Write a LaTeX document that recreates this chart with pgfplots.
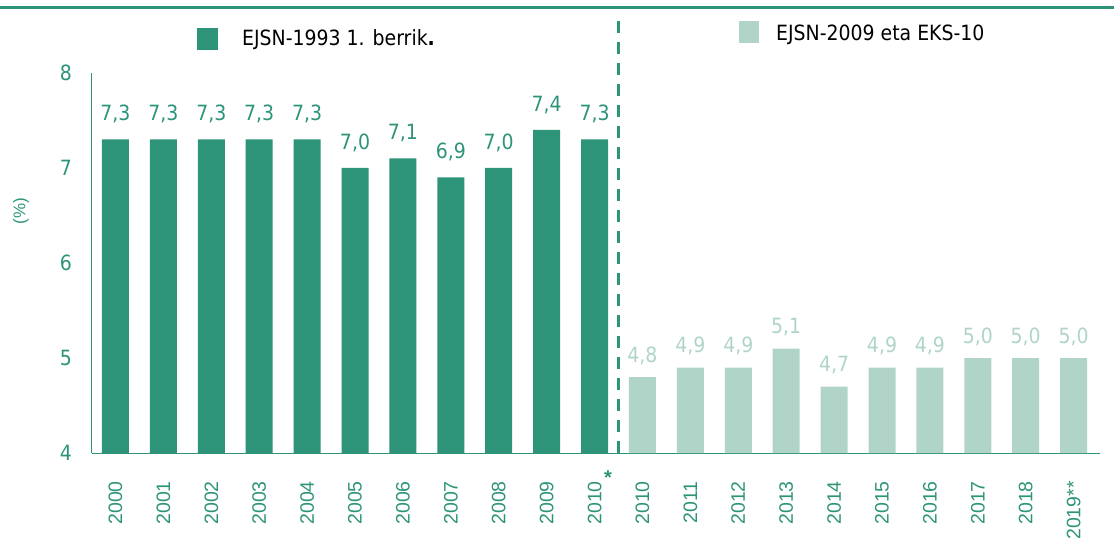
\documentclass[border=0pt]{standalone}
\usepackage{pgfplots}
\pgfplotsset{compat=1.18}
\usepackage{fontspec}
\setmainfont{DejaVu Sans Condensed}
\newfontfamily\arial{Liberation Sans}
\definecolor{dk}{HTML}{2E9479}
\definecolor{lt}{HTML}{B0D5C8}
\newcommand\F{\fontsize{21}{25}\selectfont}
\newcommand\Y{\arial\fontsize{19.5}{23}\selectfont}
\begin{document}
\begin{tikzpicture}
\useasboundingbox (-92pt,-88pt) rectangle (1022pt,453pt);
\draw[dk, line width=3pt] (-92pt,445pt) -- (1022pt,445pt);
\begin{axis}[
  at={(0,0)}, anchor=south west,
  scale only axis, width=1008pt, height=380pt,
  xmin=-0.49, xmax=20.55, ymin=4, ymax=8,
  ybar, bar width=27pt,
  axis x line*=bottom, axis y line*=left,
  axis line style={dk, line width=1pt},
  major tick length=0pt,
  ytick={4,5,6,7,8},
  yticklabel style={font=\F, text=dk, inner sep=0pt, /pgf/number format/assume math mode=true},
  yticklabel shift=20pt,
  xtick={0,...,20},
  xticklabels={2000,2001,2002,2003,2004,2005,2006,2007,2008,2009,2010,2010,2011,2012,2013,2014,2015,2016,2017,2018,2019**},
  xticklabel style={font=\Y, text=dk, rotate=90, anchor=east, inner sep=0pt},
  xticklabel shift=28pt,
  ylabel={(\%)},
  every axis y label/.style={at={(rel axis cs:0,0.636)}, xshift=-71pt, rotate=90, anchor=center, font=\arial\fontsize{17}{20}\selectfont, text=dk},
  clip=false,
  nodes near coords={\pgfmathprintnumber[fixed, fixed zerofill, precision=1, use comma, assume math mode=true]{\pgfplotspointmeta}},
  every node near coord/.append style={font=\F, anchor=south, yshift=9pt},
]
\addplot[fill=dk, draw=none, bar shift=0pt, every node near coord/.append style={text=dk, yshift=4pt}] coordinates {
(0,7.3) (1,7.3) (2,7.3) (3,7.3) (4,7.3) (5,7.0) (6,7.1) (7,6.9) (8,7.0) (9,7.4) (10,7.3)};
\addplot[fill=lt, draw=none, bar shift=0pt, every node near coord/.append style={text=lt}] coordinates {
(11,4.8) (12,4.9) (13,4.9) (14,5.1) (15,4.7) (16,4.9) (17,4.9) (18,5.0) (19,5.0) (20,5.0)};
\draw[dk, line width=3pt, dash pattern=on 12pt off 9pt] (axis cs:10.5,4) -- ([yshift=432pt]axis cs:10.5,4);
\node[font=\arial\bfseries\fontsize{20}{24}\selectfont, text=dk, inner sep=0pt] at ([yshift=-25pt]axis cs:10.28,4) {*};
\end{axis}
\fill[dk] (105pt,403pt) rectangle (126pt,425pt);
\node[anchor=west, font=\F, inner sep=0pt] at (150pt,413pt) {EJSN-1993 1. berrik\textbf{.}};
\fill[lt] (647pt,410pt) rectangle (667pt,432pt);
\node[anchor=west, font=\F, inner sep=0pt] at (684pt,418pt) {EJSN-2009 eta EKS-10};
\end{tikzpicture}
\end{document}
